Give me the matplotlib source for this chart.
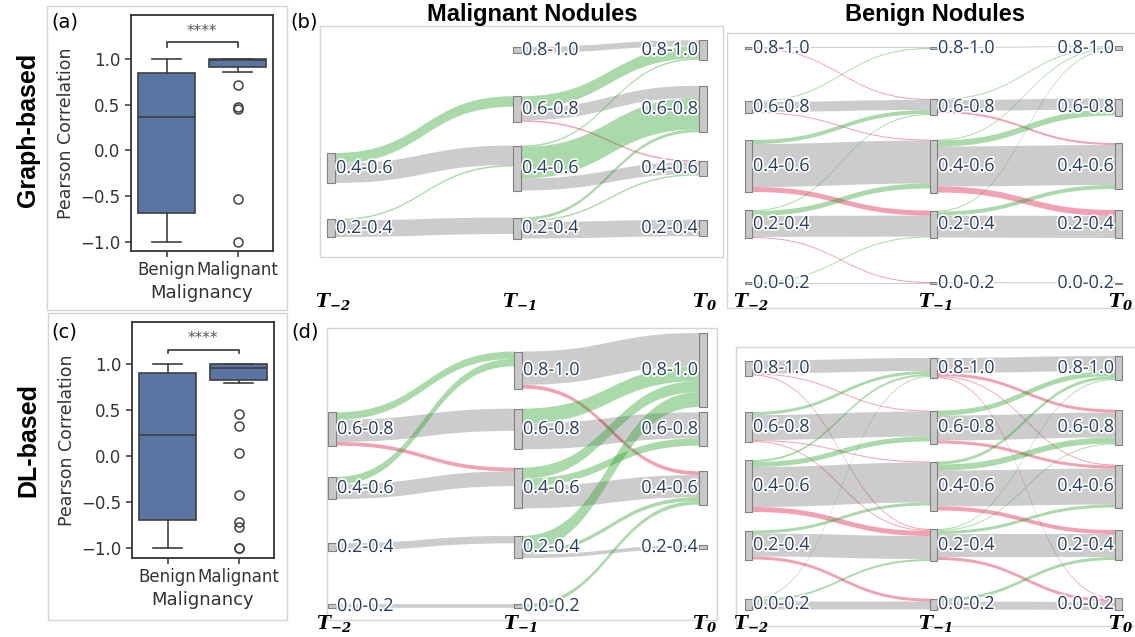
import matplotlib
matplotlib.use('Agg')
import matplotlib.pyplot as plt
import matplotlib.patheffects as pe
from matplotlib.patches import Rectangle, PathPatch
from matplotlib.path import Path

plt.rcParams['mathtext.fontset'] = 'custom'
plt.rcParams['mathtext.bf'] = 'DejaVu Serif:italic:bold'
plt.rcParams['mathtext.rm'] = 'DejaVu Serif:italic:bold'

W, H = 1135, 637

# ---- data ----
groups = ['Benign', 'Malignant']

# boxplot stats (a) and (c)
graph_benign = dict(whislo=-1.0, q1=-0.68, med=0.36, q3=0.85, whishi=1.0)
graph_malig = dict(whislo=0.86, q1=0.91, med=0.99, q3=1.0, whishi=1.0)
graph_malig_out = [0.71, 0.47, 0.45, -0.53, -1.0]
dl_benign = dict(whislo=-1.0, q1=-0.70, med=0.23, q3=0.90, whishi=1.0)
dl_malig = dict(whislo=0.80, q1=0.83, med=0.96, q3=1.0, whishi=1.0)
dl_malig_out = [0.46, 0.33, 0.03, -0.42, -0.72, -0.77, -1.0, -1.0]

bins = ['0.0-0.2', '0.2-0.4', '0.4-0.6', '0.6-0.8', '0.8-1.0']
time_labels = [r'$\mathbf{T_{-2}}$', r'$\mathbf{T_{-1}}$', r'$\mathbf{T_{0}}$']

# sankey flows: (from bin, to bin, count)
mal_graph_t2_t1 = [(2, 3, 7), (2, 2, 13), (1, 2, 1), (1, 1, 11)]
mal_graph_t1_t0 = [(4, 4, 4), (3, 4, 8), (3, 3, 8), (3, 2, 1), (2, 4, 1), (2, 3, 21),
                   (2, 2, 8), (1, 3, 2), (1, 2, 1), (1, 1, 11)]
ben_graph_t2_t1 = [(4, 4, 1), (4, 3, 1), (3, 4, 1), (3, 3, 10), (3, 2, 1), (2, 3, 4),
                   (2, 2, 43), (2, 1, 5), (1, 3, 1), (1, 2, 5), (1, 1, 21), (1, 0, 1),
                   (0, 1, 1), (0, 0, 1)]
ben_graph_t1_t0 = [(4, 4, 1), (3, 4, 1), (3, 3, 11), (3, 2, 2), (2, 4, 1), (2, 3, 6),
                   (2, 2, 40), (2, 1, 6), (1, 4, 1), (1, 2, 4), (1, 1, 22), (0, 0, 1)]
mal_dl_t2_t1 = [(3, 4, 2), (3, 3, 6), (3, 2, 1), (2, 4, 2), (2, 2, 4), (1, 1, 2), (0, 0, 1)]
mal_dl_t1_t0 = [(4, 4, 9), (4, 2, 1), (3, 4, 4), (3, 3, 7), (2, 4, 3), (2, 3, 2),
                (2, 2, 6), (1, 4, 4), (1, 2, 1), (1, 1, 1), (0, 2, 1)]
ben_dl_t2_t1 = [(4, 4, 13), (4, 3, 1), (4, 1, 1), (3, 4, 3), (3, 3, 25), (3, 2, 1),
                (3, 1, 1), (2, 4, 2), (2, 3, 5), (2, 2, 40), (2, 1, 5), (1, 2, 3),
                (1, 1, 23), (1, 0, 3), (0, 4, 1), (0, 1, 2), (0, 0, 8)]
ben_dl_t1_t0 = [(4, 4, 15), (4, 3, 3), (4, 2, 1), (4, 0, 1), (3, 4, 5), (3, 3, 25),
                (3, 2, 3), (2, 4, 3), (2, 3, 6), (2, 2, 36), (2, 1, 4), (1, 4, 1),
                (1, 3, 1), (1, 2, 3), (1, 1, 23), (1, 0, 3), (0, 1, 3), (0, 0, 8)]

GRAY = (0, 0, 0, 0.2)
GREEN = (44/255, 160/255, 44/255, 0.4)
RED = (220/255, 20/255, 60/255, 0.4)
TXT = '#2a3f5f'


def frac(l, t, r, b):
    return [l / W, 1 - b / H, (r - l) / W, (b - t) / H]


def draw_sankey(ax, stages, xs, ycent, scale, nw):
    # node sizes = max(in, out)
    size = [dict() for _ in range(3)]
    for c, flows in enumerate(stages):
        for s, t, n in flows:
            size[c].setdefault(s, [0, 0])[1] += n
            size[c + 1].setdefault(t, [0, 0])[0] += n
    top = [{b: ycent[b] - max(v) * scale / 2 for b, v in size[c].items()} for c in range(3)]
    out_off = [dict(top[c]) for c in range(3)]
    in_off = [dict(top[c]) for c in range(3)]
    for c, flows in enumerate(stages):
        x0 = xs[c] + nw
        x1 = xs[c + 1]
        xm = (x0 + x1) / 2
        # links stacked in the node by the other end's position, top first
        ys0 = {}
        for s in sorted({f[0] for f in flows}, reverse=True):
            for f in sorted([f for f in flows if f[0] == s], key=lambda f: -f[1]):
                ys0[f] = out_off[c][s]
                out_off[c][s] += f[2] * scale
        ys1 = {}
        for t in sorted({f[1] for f in flows}, reverse=True):
            for f in sorted([f for f in flows if f[1] == t], key=lambda f: -f[0]):
                ys1[f] = in_off[c + 1][t]
                in_off[c + 1][t] += f[2] * scale
        for f in flows:
            s, t, n = f
            w = n * scale
            a, b = ys0[f], ys1[f]
            col = GREEN if t > s else (RED if t < s else GRAY)
            verts = [(x0, a), (xm, a), (xm, b), (x1, b), (x1, b + w), (xm, b + w),
                     (xm, a + w), (x0, a + w), (x0, a)]
            codes = [Path.MOVETO, Path.CURVE4, Path.CURVE4, Path.CURVE4, Path.LINETO,
                     Path.CURVE4, Path.CURVE4, Path.CURVE4, Path.CLOSEPOLY]
            ax.add_patch(PathPatch(Path(verts, codes), facecolor=col, edgecolor='none', zorder=2))
    for c in range(3):
        for b, v in size[c].items():
            h = max(v) * scale
            ax.add_patch(Rectangle((xs[c], top[c][b]), nw, h, facecolor='#c8c8c8',
                                   edgecolor='#808080', lw=0.8, zorder=3))
            if c < 2:
                tx, ha = xs[c] + nw + 1, 'left'
            else:
                tx, ha = xs[c] - 1, 'right'
            ax.text(tx, ycent[b], bins[b], ha=ha, va='center', fontsize=13,
                    family='Open Sans', color=TXT, zorder=5,
                    path_effects=[pe.withStroke(linewidth=2.5, foreground='white')])


fig = plt.figure(figsize=(W / 100, H / 100), dpi=100)
ov = fig.add_axes([0, 0, 1, 1])
ov.set_xlim(0, W)
ov.set_ylim(H, 0)
ov.axis('off')

# panel frames
for l, t, r, b in [(47, 6, 287, 310), (48, 313, 287, 620), (320, 26, 723, 257),
                   (727, 33, 1140, 308), (327, 328, 717, 620), (736, 347, 1140, 626)]:
    ov.add_patch(Rectangle((l, t), r - l, b - t, fill=False, edgecolor='#d4d4d4', lw=1, zorder=1))

# row labels / titles / panel letters
ov.text(28, 130, 'Graph-based', rotation=90, ha='center', va='center', fontsize=18,
        fontweight='bold', family='Liberation Sans')
ov.text(28, 440, 'DL-based', rotation=90, ha='center', va='center', fontsize=18,
        fontweight='bold', family='Liberation Sans')
ov.text(532, 15, 'Malignant Nodules', ha='center', va='center', fontsize=17,
        fontweight='bold', family='Liberation Sans')
ov.text(935, 15, 'Benign Nodules', ha='center', va='center', fontsize=17,
        fontweight='bold', family='Liberation Sans')
for s, x, y in [('(a)', 51, 22), ('(b)', 290, 22), ('(c)', 51, 332), ('(d)', 291, 332)]:
    ov.text(x, y, s, ha='left', va='center', fontsize=14, family='DejaVu Sans')

# sankeys
sankeys = [
    ([mal_graph_t2_t1, mal_graph_t1_t0], [327, 513, 699], {4: 50, 3: 109, 2: 168, 1: 228, 0: 287}, 1.5, 8, 302),
    ([ben_graph_t2_t1, ben_graph_t1_t0], [745, 930, 1115], {4: 48, 3: 107, 2: 166, 1: 224, 0: 283}, 1.0, 7, 302),
    ([mal_dl_t2_t1, mal_dl_t1_t0], [328, 514, 699], {4: 370, 3: 429, 2: 488, 1: 547, 0: 606}, 3.7, 8, 623),
    ([ben_dl_t2_t1, ben_dl_t1_t0], [745, 930, 1115], {4: 368, 3: 427, 2: 486, 1: 545, 0: 604}, 1.0, 7, 623),
]
for stages, xs, yc, sc, nw, ty in sankeys:
    draw_sankey(ov, stages, xs, yc, sc, nw)
    for i, lab in enumerate(time_labels):
        ov.text(xs[i] + nw / 2 + 2, ty, lab, ha='center', va='center', fontsize=13.5, zorder=6)

# boxplots
box_panels = [
    (frac(131, 15, 273, 251), graph_benign, graph_malig, graph_malig_out, (1.13, 1.19, 1.30), (-1.10, 1.48)),
    (frac(132, 322, 274, 558), dl_benign, dl_malig, dl_malig_out, (1.12, 1.16, 1.28), (-1.11, 1.46)),
]
for rect, sb, sm, out, sig, yl in box_panels:
    ax = fig.add_axes(rect)
    stats = [dict(sb, fliers=[], label=groups[0]), dict(sm, fliers=out, label=groups[1])]
    ec = '#3f3f3f'
    ax.bxp(stats, positions=[0, 1], widths=0.8, patch_artist=True, showfliers=True,
           capwidths=0.4,
           boxprops=dict(facecolor='#5975a4', edgecolor=ec, lw=1.2),
           medianprops=dict(color=ec, lw=1.2),
           whiskerprops=dict(color=ec, lw=1.2),
           capprops=dict(color=ec, lw=1.2),
           flierprops=dict(marker='o', markerfacecolor='none', markeredgecolor=ec,
                           markersize=6.5, markeredgewidth=1.1))
    ax.set_xlim(-0.5, 1.5)
    ax.set_ylim(*yl)
    ax.set_yticks([-1.0, -0.5, 0.0, 0.5, 1.0])
    ax.set_xticks([0, 1], groups)
    ax.tick_params(labelsize=12, colors='#333333', length=4, width=1.1)
    for sp in ax.spines.values():
        sp.set_color('#333333')
        sp.set_linewidth(1.3)
    ax.set_ylabel('Pearson Correlation', fontsize=12.5, color='#333333', labelpad=4)
    ax.set_xlabel('Malignancy', fontsize=13, color='#333333', labelpad=3)
    lo, hi, ty = sig
    ax.plot([0, 0, 1, 1], [lo, hi, hi, lo], color='#333333', lw=1.2)
    ax.text(0.5, ty, '****', ha='center', va='center', fontsize=11, color='#555555')

fig.savefig('out.png', dpi=100)
